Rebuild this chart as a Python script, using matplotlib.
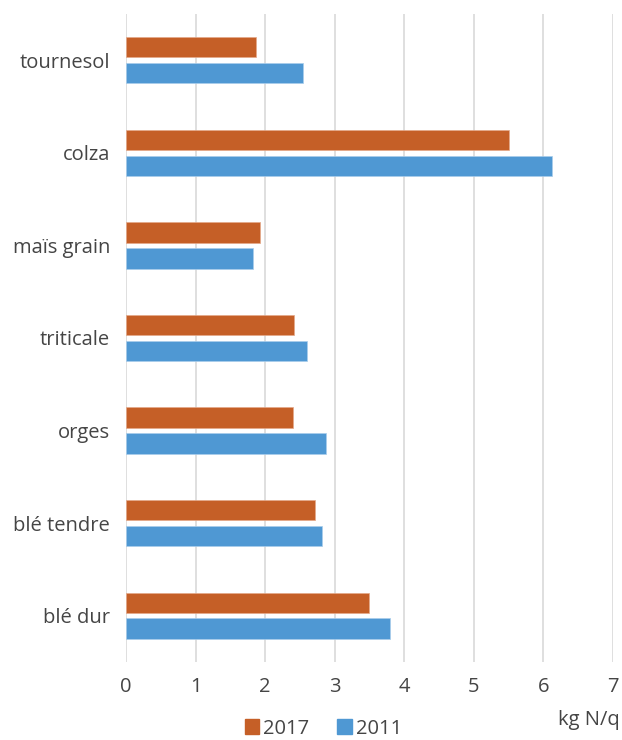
import matplotlib.pyplot as plt
import numpy as np
from matplotlib.patches import Patch

plt.rcParams['font.family'] = ['Open Sans', 'DejaVu Sans']

cultures = ["blé dur", "blé tendre", "orges", "triticale", "maïs grain", "colza", "tournesol"]
val_2017 = [3.50, 2.72, 2.40, 2.41, 1.93, 5.50, 1.87]
val_2011 = [3.80, 2.82, 2.87, 2.60, 1.83, 6.12, 2.54]

c2017 = "#C55F27"
c2011 = "#4F98D3"
txt = "#454545"
fs = 14.5

fig = plt.figure(figsize=(6.22, 7.40), dpi=100)
ax = fig.add_axes([0.2026, 0.1054, 0.7829, 0.8757])

y = np.arange(len(cultures))
h = 0.22
ax.barh(y + 0.14, val_2017, height=h, color=c2017, edgecolor="#E4A98A", linewidth=0.5, zorder=3)
ax.barh(y - 0.14, val_2011, height=h, color=c2011, edgecolor="#A9CDEB", linewidth=0.5, zorder=3)

ax.set_xlim(0, 7)
ax.set_ylim(-0.5, len(cultures) - 0.5)
ax.set_xticks(range(8))
ax.set_yticks(y)
ax.set_yticklabels(cultures)
ax.tick_params(length=0, labelsize=fs, colors=txt)
ax.tick_params(axis='x', pad=11)
ax.tick_params(axis='y', pad=11.5)
ax.grid(axis='x', color="#D9D9D9", linewidth=1.2, zorder=0)
for s in ax.spines.values():
    s.set_visible(False)

fig.text(0.997, 0.027, "kg N/q", ha="right", va="center", fontsize=fs, color=txt)

handles = [Patch(color=c2017, label="2017"), Patch(color=c2011, label="2011")]
fig.legend(handles=handles, loc="center", bbox_to_anchor=(0.52, 0.0155), ncol=2,
           frameon=False, fontsize=fs, labelcolor=txt, handlelength=0.7,
           handleheight=0.7, handletextpad=0.2, columnspacing=1.4,
           borderpad=0.0, borderaxespad=0.0)

plt.savefig("out.png", dpi=100)
plt.close(fig)
